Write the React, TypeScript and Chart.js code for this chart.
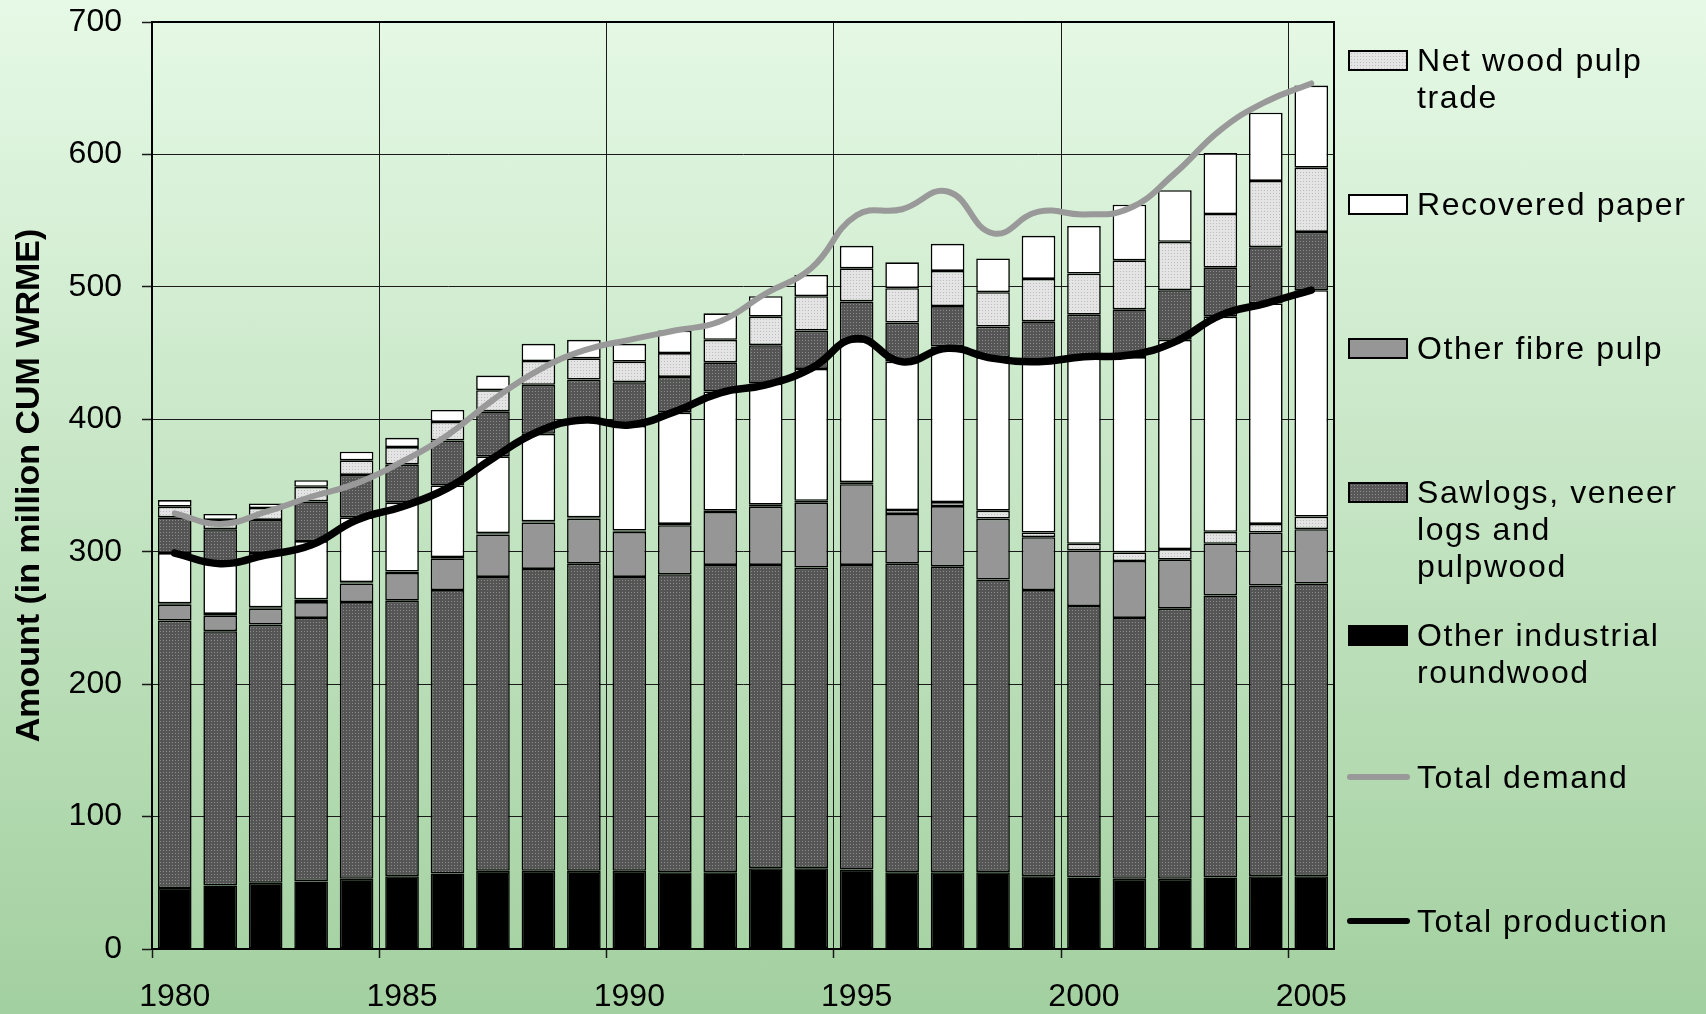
import React, { useEffect, useRef } from "react";
import { Chart, registerables } from "chart.js";

Chart.register(...registerables);

// ---------- DATA ----------
const years = [
  "1980", "1981", "1982", "1983", "1984", "1985", "1986", "1987", "1988", "1989",
  "1990", "1991", "1992", "1993", "1994", "1995", "1996", "1997", "1998", "1999",
  "2000", "2001", "2002", "2003", "2004", "2005",
];

// lower stack (production side)
const otherIndustrialRoundwood = [46, 48, 50, 51, 53, 55, 57, 59, 59, 59, 59, 58, 58, 61, 61, 60, 58, 58, 58, 55, 54, 53, 53, 54, 55, 55];
const sawlogsVeneerPulpwood = [202, 192, 195, 199, 209, 208, 214, 222, 228, 232, 222, 225, 232, 229, 227, 230, 233, 231, 221, 216, 205, 197, 204, 213, 219.5, 221];
const otherFibrePulp = [12, 12, 12, 12, 14, 21, 24, 32, 35, 34, 34, 37, 40, 44, 49, 61, 37.5, 45.5, 46, 40, 42, 43, 37, 39, 40, 41];
const netWoodPulpTrade = [1, 1, 1, 2, 1, 1, 1, 1, 1, 1, 1, 1, 1, 1.5, 1.5, 1.5, 3, 3, 6, 3.5, 5, 6.5, 8, 9, 6.5, 9.5];
const recoveredPaper = [38, 38, 41, 44, 49, 52, 54, 58, 66, 72, 79, 84, 90, 91.5, 99.5, 106.5, 112, 117.5, 116, 129, 141, 147.5, 158, 162.5, 166.5, 171];
// upper stack (demand side)
const sawlogsUpper = [27, 26, 25, 30, 32, 29, 34, 34, 37, 32, 33, 27, 22, 29, 29, 30, 29.5, 30.5, 23, 30.5, 32, 36, 37.5, 37, 42.5, 44];
const netWoodPulpTradeUpper = [8, 7, 9, 11, 11, 13, 14, 16, 18, 16, 15.5, 18, 17, 21.5, 26, 25, 26, 26.5, 26, 32, 31, 37, 36.5, 40.5, 50, 48.5];
const recoveredPaperUpper = [5, 4.5, 3.5, 5, 6.5, 7, 9, 11, 13, 14, 13.5, 17, 20, 15.5, 16, 17, 19.5, 20.5, 25.5, 32.5, 36, 42, 39, 46, 51.5, 62];

// lines
const totalDemand = [329, 321, 330, 341.5, 351.6, 368, 388, 414.6, 437, 452, 460, 467, 474, 495, 514, 554, 558.6, 572, 540.4, 556.8, 554.7, 559.3, 585.7, 618.4, 639.8, 653.6];
const totalProduction = [299, 291, 297.5, 305, 324, 334, 348, 370.6, 390.8, 399.5, 395.7, 405.8, 420, 426, 438.5, 461, 443.5, 453.6, 446, 443.5, 447.3, 448.5, 458.5, 478.5, 487.6, 497.6];

const yMin = 0;
const yMax = 700;
const yStep = 100;
const yTitle = "Amount (in million CUM WRME)";

const legendLabels = {
  nwp: ["Net wood pulp", "trade"],
  rec: ["Recovered paper"],
  fib: ["Other fibre pulp"],
  saw: ["Sawlogs, veneer", "logs and", "pulpwood"],
  oir: ["Other industrial", "roundwood"],
  dem: ["Total demand"],
  prod: ["Total production"],
};

const FONT = "'Liberation Sans', Arial, sans-serif";

function makePattern(base: string, dot: string): CanvasPattern | string {
  const c = document.createElement("canvas");
  c.width = 3;
  c.height = 3;
  const g = c.getContext("2d");
  if (!g) return base;
  g.fillStyle = base;
  g.fillRect(0, 0, 3, 3);
  g.fillStyle = dot;
  g.fillRect(1, 1, 1, 1);
  const p = g.createPattern(c, "repeat");
  return p || base;
}

const framePlugin = {
  id: "frame",
  afterDraw(chart: any) {
    const { ctx, chartArea } = chart;
    ctx.save();
    ctx.strokeStyle = "#000";
    ctx.lineWidth = 2;
    ctx.strokeRect(chartArea.left, chartArea.top, chartArea.right - chartArea.left, chartArea.bottom - chartArea.top);
    ctx.restore();
  },
};

const darkCss: React.CSSProperties = {
  backgroundColor: "#585858",
  backgroundImage: "radial-gradient(circle, #8e8e8e 0.7px, transparent 0.9px)",
  backgroundSize: "3px 3px",
};
const lightCss: React.CSSProperties = {
  backgroundColor: "#e4e4e4",
  backgroundImage: "radial-gradient(circle, #bcbcbc 0.7px, transparent 0.9px)",
  backgroundSize: "3px 3px",
};

export default function App() {
  const canvasRef = useRef<HTMLCanvasElement | null>(null);

  useEffect(() => {
    const canvas = canvasRef.current;
    if (!canvas) return;
    const dark = makePattern("#555555", "#8c8c8c");
    const light = makePattern("#e4e4e4", "#bdbdbd");

    const bar = (label: string, data: number[], color: any) => ({
      type: "bar" as const,
      label,
      data,
      backgroundColor: color,
      borderColor: "#000",
      borderWidth: 1.6,
      borderSkipped: false,
      barPercentage: 0.74,
      categoryPercentage: 1.0,
      stack: "bars",
      order: 1,
      inflateAmount: 0,
    });

    const gridColor = (c: any) => (typeof c.index === "number" && c.index % 5 === 0 ? "#1a1a1a" : "rgba(0,0,0,0)");

    const chart = new Chart(canvas, {
      type: "bar",
      data: {
        labels: years,
        datasets: [
          bar("Other industrial roundwood", otherIndustrialRoundwood, "#000000"),
          bar("Sawlogs, veneer logs and pulpwood", sawlogsVeneerPulpwood, dark),
          bar("Other fibre pulp", otherFibrePulp, "#969696"),
          bar("Net wood pulp trade", netWoodPulpTrade, light),
          bar("Recovered paper", recoveredPaper, "#ffffff"),
          bar("Sawlogs, veneer logs and pulpwood (imports)", sawlogsUpper, dark),
          bar("Net wood pulp trade (imports)", netWoodPulpTradeUpper, light),
          bar("Recovered paper (imports)", recoveredPaperUpper, "#ffffff"),
          {
            type: "line" as const,
            label: "Total demand",
            data: totalDemand,
            borderColor: "#999999",
            backgroundColor: "#999999",
            borderWidth: 6,
            pointRadius: 0,
            tension: 0.45,
            fill: false,
            stack: "demand",
            order: 0,
            borderCapStyle: "round",
            borderJoinStyle: "round",
          } as any,
          {
            type: "line" as const,
            label: "Total production",
            data: totalProduction,
            borderColor: "#000000",
            backgroundColor: "#000000",
            borderWidth: 7.5,
            pointRadius: 0,
            tension: 0.45,
            fill: false,
            stack: "production",
            order: 0,
            borderCapStyle: "round",
            borderJoinStyle: "round",
          } as any,
        ],
      },
      options: {
        responsive: false,
        animation: false,
        events: [],
        layout: { padding: { top: 22, right: 372, bottom: 0, left: 0 } },
        plugins: {
          legend: { display: false },
          tooltip: { enabled: false },
        },
        scales: {
          x: {
            stacked: true,
            offset: true,
            grid: {
              offset: true,
              color: gridColor,
              tickColor: gridColor,
              lineWidth: 1,
              tickWidth: 1.5,
              drawTicks: true,
              tickLength: 9,
            },
            border: { display: true, color: "#000", width: 2 },
            ticks: {
              autoSkip: false,
              maxRotation: 0,
              minRotation: 0,
              padding: 20,
              color: "#000",
              font: { family: FONT, size: 32 },
              callback: (_v: any, i: number) => (i % 5 === 0 ? years[i] : ""),
            },
            afterFit: (s: any) => {
              s.height = 65;
              s.paddingLeft = 0;
              s.paddingRight = 0;
            },
          },
          y: {
            stacked: true,
            min: yMin,
            max: yMax,
            grid: {
              color: "#1a1a1a",
              lineWidth: 1,
              tickLength: 10,
              tickColor: "#1a1a1a",
              tickWidth: 1.5,
            },
            border: { display: true, color: "#000", width: 2 },
            ticks: {
              stepSize: yStep,
              padding: 20,
              color: "#000",
              font: { family: FONT, size: 32 },
            },
            title: {
              display: true,
              text: yTitle,
              color: "#000",
              font: { family: FONT, size: 34, weight: "bold" },
              padding: { top: 9, bottom: 0 },
            },
            afterFit: (s: any) => {
              s.width = 152;
              s.paddingTop = 0;
              s.paddingBottom = 0;
            },
          },
        },
      } as any,
      plugins: [framePlugin],
    });
    return () => chart.destroy();
  }, []);

  const rowY = [60.5, 204, 348, 492, 635, 777, 921];
  const boxes: { lines: string[]; style: React.CSSProperties }[] = [
    { lines: legendLabels.nwp, style: lightCss },
    { lines: legendLabels.rec, style: { backgroundColor: "#ffffff" } },
    { lines: legendLabels.fib, style: { backgroundColor: "#969696" } },
    { lines: legendLabels.saw, style: darkCss },
    { lines: legendLabels.oir, style: { backgroundColor: "#000000" } },
  ];
  const lines = [
    { lines: legendLabels.dem, color: "#999999" },
    { lines: legendLabels.prod, color: "#000000" },
  ];

  const textStyle = (cy: number): React.CSSProperties => ({
    position: "absolute",
    left: 1417,
    top: cy - 18.1,
    fontFamily: FONT,
    fontSize: 32,
    lineHeight: "37px",
    letterSpacing: "1.6px",
    color: "#000",
    whiteSpace: "nowrap",
  });

  return (
    <div
      style={{
        position: "absolute",
        left: 0,
        top: 0,
        width: 1706,
        height: 1014,
        overflow: "hidden",
        background: "linear-gradient(to bottom, #e6f9e6 0%, #a3d0a0 100%)",
      }}
    >
      <canvas ref={canvasRef} width={1706} height={1014} style={{ position: "absolute", left: 0, top: 0, width: 1706, height: 1014 }} />
      {boxes.map((b, i) => (
        <React.Fragment key={"b" + i}>
          <div
            style={{
              position: "absolute",
              left: 1348,
              top: rowY[i] - 10.5,
              width: 60,
              height: 21,
              border: "2px solid #000",
              boxSizing: "border-box",
              ...b.style,
            }}
          />
          <div style={textStyle(rowY[i])}>
            {b.lines.map((l, j) => (
              <div key={j}>{l}</div>
            ))}
          </div>
        </React.Fragment>
      ))}
      {lines.map((l, i) => (
        <React.Fragment key={"l" + i}>
          <div
            style={{
              position: "absolute",
              left: 1347,
              top: rowY[5 + i] - 3,
              width: 63,
              height: 6,
              borderRadius: 3,
              background: l.color,
            }}
          />
          <div style={textStyle(rowY[5 + i])}>
            {l.lines.map((t, j) => (
              <div key={j}>{t}</div>
            ))}
          </div>
        </React.Fragment>
      ))}
    </div>
  );
}
